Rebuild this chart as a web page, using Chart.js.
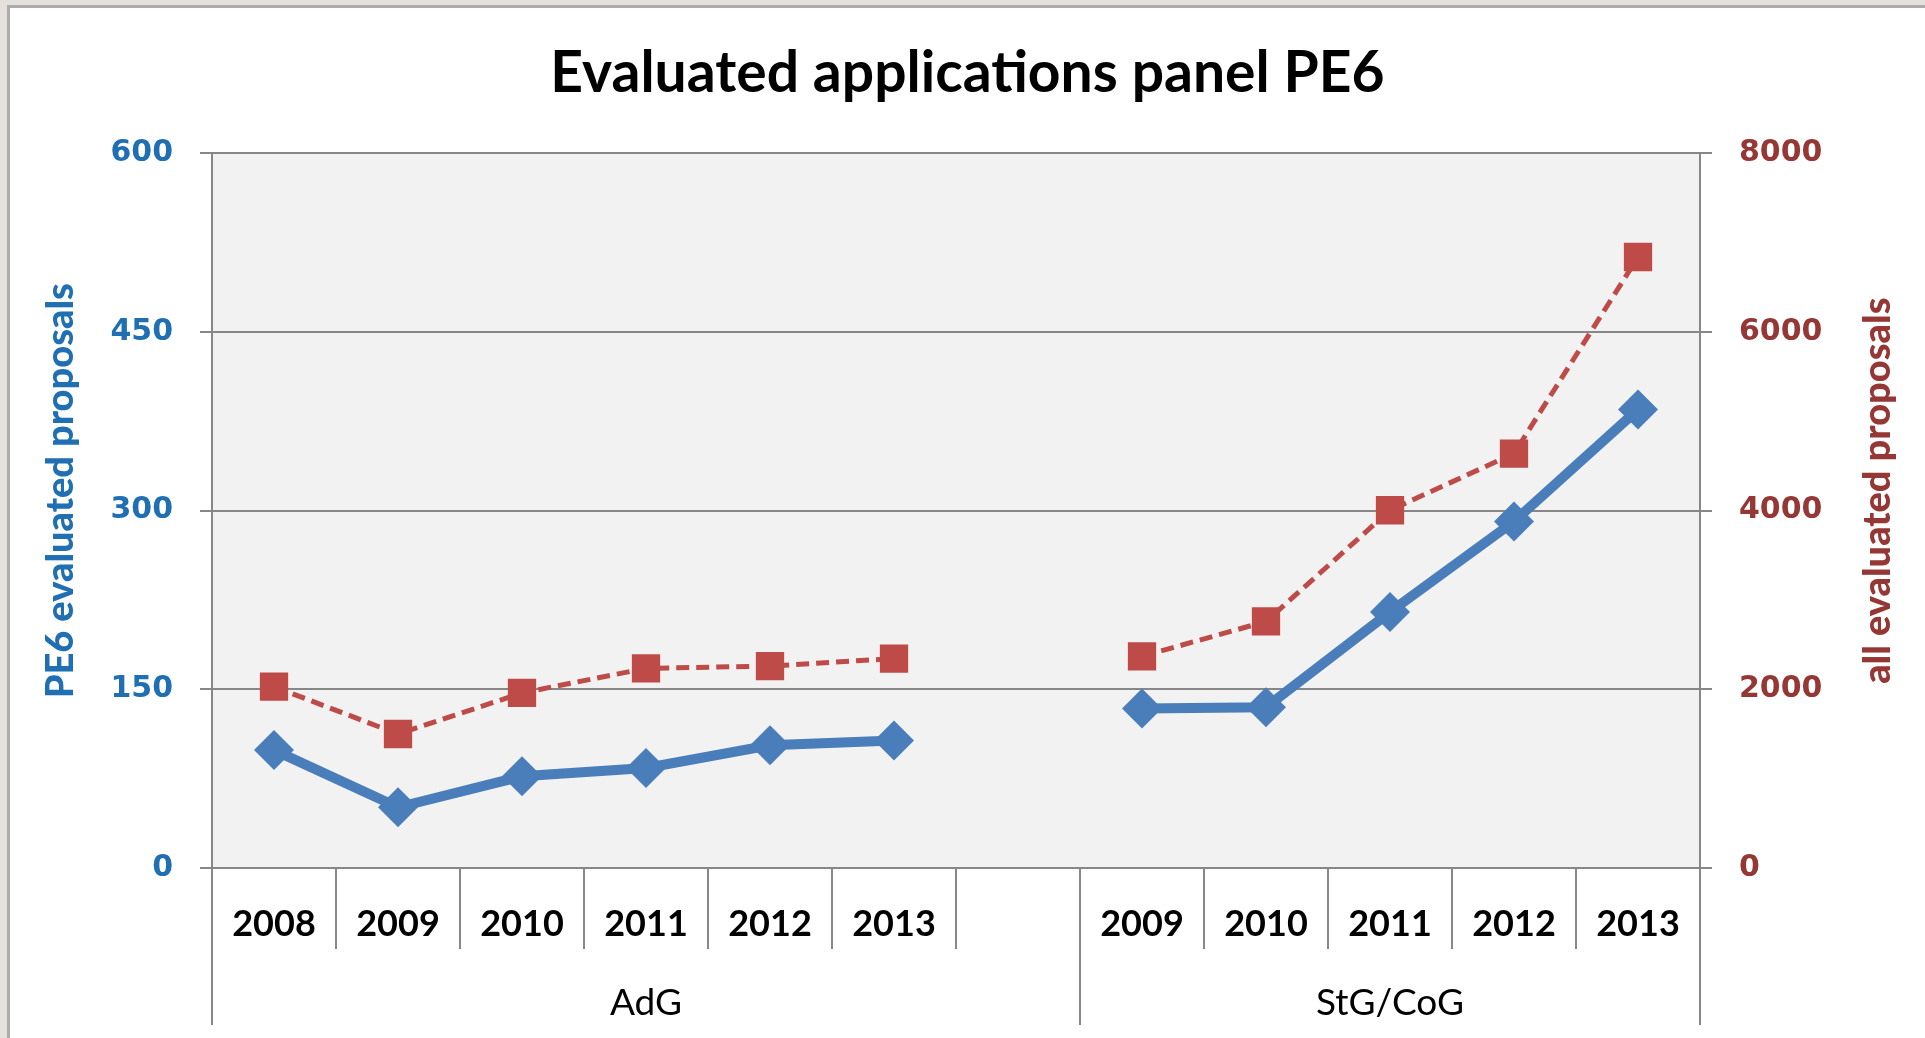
<!DOCTYPE html>
<html>
<head>
<meta charset="utf-8">
<title>Evaluated applications panel PE6</title>
<script src="https://cdn.jsdelivr.net/npm/chart.js@4.4.1/dist/chart.umd.min.js"></script>
<style>
  html, body { margin: 0; padding: 0; }
  body { background: #e4e1dd; width: 1925px; height: 1038px; overflow: hidden; position: relative; }
  #frame { position: absolute; left: 7px; top: 5px; right: 0; bottom: 0; background: #fff;
           border-left: 3px solid #acacac; border-top: 3px solid #acacac; }
  #wrap { position: absolute; left: 0; top: 0; }
</style>
</head>
<body>
<div id="frame">
  <div id="wrap"><canvas id="myChart" width="1915" height="1030"></canvas></div>
</div>
<script>
// data
const years = ['2008', '2009', '2010', '2011', '2012', '2013', '', '2009', '2010', '2011', '2012', '2013']
const groups = ['AdG', 'StG/CoG']
const groupSizes = [7, 5]
const pe6Values = [99, 51, 77, 84, 103, 107, null, 134, 135, 215, 291, 385]
const allValues = [2030, 1500, 1960, 2235, 2260, 2345, null, 2370, 2760, 4005, 4640, 6840]
const leftTicks = [0, 150, 300, 450, 600]
const rightTicks = [0, 2000, 4000, 6000, 8000]

const gridGray = '#878787'
const blueText = '#1f6fb2'
const redText = '#953735'
const textFont = 'Lato, "Open Sans", sans-serif'

// group boundaries and centres on the second category row
let groupEdges = [0]
let groupCentres = []
groupSizes.forEach(n => {
    const start = groupEdges[groupEdges.length - 1]
    groupCentres.push(start + n / 2)
    groupEdges.push(start + n)
})

const plotBg = {
    id: 'plotBg',
    beforeDraw(chart) {
        const {ctx, chartArea: a} = chart
        ctx.save()
        ctx.fillStyle = '#f2f2f2'
        ctx.fillRect(a.left, a.top, a.right - a.left, a.bottom - a.top)
        ctx.restore()
    }
}

// axis titles, both read bottom to top like the original
const sideTitles = {
    id: 'sideTitles',
    afterDraw(chart, args, opts) {
        const {ctx, chartArea: a} = chart
        const midY = (a.top + a.bottom) / 2 - 20
        opts.items.forEach(t => {
            ctx.save()
            ctx.translate(t.axis === 'left' ? 51 : chart.width - 47, midY)
            ctx.rotate(-Math.PI / 2)
            ctx.font = '900 38px ' + textFont
            ctx.fillStyle = t.color
            ctx.textAlign = 'center'
            ctx.textBaseline = 'middle'
            ctx.fillText(t.text, 0, 0)
            ctx.restore()
        })
    }
}

const data = {
    labels: years,
    datasets: [{
        label: 'PE6 evaluated proposals',
        data: pe6Values,
        yAxisID: 'y',
        borderColor: '#4a7ebb',
        backgroundColor: '#4a7ebb',
        borderWidth: 10,
        pointStyle: 'rectRot',
        pointRadius: 20,
        pointBorderWidth: 0,
        spanGaps: false,
        order: 1
    }, {
        label: 'all evaluated proposals',
        data: allValues,
        yAxisID: 'y2',
        borderColor: '#be4b48',
        backgroundColor: '#be4b48',
        borderWidth: 5,
        borderDash: [13, 7],
        pointStyle: 'rect',
        pointRadius: 20,
        pointBorderWidth: 0,
        spanGaps: false,
        order: 2
    }]
}

const config = {
    type: 'line',
    data: data,
    plugins: [plotBg, sideTitles],
    options: {
        responsive: false,
        devicePixelRatio: 1,
        animation: false,
        layout: { padding: 0 },
        plugins: {
            legend: { display: false },
            tooltip: { enabled: false },
            title: {
                display: true,
                text: 'Evaluated applications panel PE6',
                color: '#000',
                font: { family: textFont, size: 57, weight: 'bold' },
                padding: { top: 31, bottom: 46 }
            },
            sideTitles: {
                items: [
                    { axis: 'left', text: 'PE6 evaluated proposals', color: blueText },
                    { axis: 'right', text: 'all evaluated proposals', color: redText }
                ]
            }
        },
        scales: {
            x: {
                type: 'category',
                position: 'bottom',
                weight: 0,
                offset: true,
                afterFit(s) { s.height = 81 },
                grid: { offset: true, drawOnChartArea: false, tickLength: 81, color: gridGray, lineWidth: 2 },
                border: { display: true, color: gridGray, width: 2 },
                ticks: {
                    autoSkip: false,
                    maxRotation: 0,
                    padding: -46,
                    color: '#000',
                    font: { family: textFont, size: 36, weight: 'bold' }
                }
            },
            x2: {
                type: 'linear',
                position: 'bottom',
                weight: 1,
                min: 0,
                max: groupEdges[groupEdges.length - 1],
                afterBuildTicks(s) {
                    s.ticks = groupEdges.concat(groupCentres).sort((a, b) => a - b).map(v => ({ value: v }))
                },
                afterFit(s) { s.height = 89 },
                grid: {
                    drawOnChartArea: false,
                    tickLength: 76,
                    lineWidth: 2,
                    color: ctx => groupEdges.includes(ctx.tick && ctx.tick.value) ? gridGray : 'rgba(0,0,0,0)'
                },
                border: { display: false },
                ticks: {
                    autoSkip: false,
                    maxRotation: 0,
                    padding: -44,
                    color: '#000',
                    font: { family: textFont, size: 37 },
                    callback: value => {
                        const i = groupCentres.indexOf(value)
                        return i >= 0 ? groups[i] : ''
                    }
                }
            },
            y: {
                position: 'left',
                min: leftTicks[0],
                max: leftTicks[leftTicks.length - 1],
                afterBuildTicks(s) { s.ticks = leftTicks.map(v => ({ value: v })) },
                afterFit(s) { s.width = 202 },
                grid: { color: gridGray, lineWidth: 2, tickLength: 12 },
                border: { display: true, color: gridGray, width: 2 },
                ticks: {
                    padding: 27,
                    color: blueText,
                    font: { family: '"DejaVu Sans", Verdana, sans-serif', size: 30, weight: 'bold' }
                }
            },
            y2: {
                position: 'right',
                min: rightTicks[0],
                max: rightTicks[rightTicks.length - 1],
                afterBuildTicks(s) { s.ticks = rightTicks.map(v => ({ value: v })) },
                afterFit(s) { s.width = 225 },
                grid: { drawOnChartArea: false, color: gridGray, lineWidth: 2, tickLength: 12 },
                border: { display: true, color: gridGray, width: 2 },
                ticks: {
                    padding: 27,
                    color: redText,
                    callback: v => String(v),
                    font: { family: '"DejaVu Sans", Verdana, sans-serif', size: 30, weight: 'bold' }
                }
            }
        }
    }
}

const myChart = new Chart(document.getElementById('myChart'), config)
</script>
</body>
</html>
